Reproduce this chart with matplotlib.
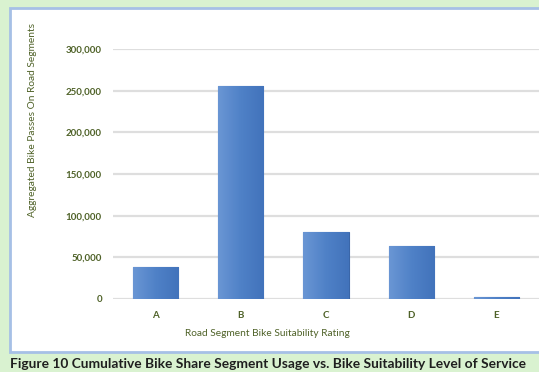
import numpy as np
import matplotlib.pyplot as plt
from matplotlib.patches import Rectangle

# bike share passes aggregated per suitability rating
ratings = ["A", "B", "C", "D", "E"]
passes = [38700, 256000, 80000, 63500, 3000]
yticks = [0, 50000, 100000, 150000, 200000, 250000, 300000]

label_col = "#4f6228"
plt.rcParams['font.family'] = ['Lato', 'DejaVu Sans']

fig = plt.figure(figsize=(5.39, 3.72), dpi=100)
fig.patch.set_facecolor("#d9f2d0")

# white chart panel with a blue border
panel = Rectangle((10 / 539, 1 - 352 / 372), 1.0, 344 / 372, transform=fig.transFigure,
                  facecolor="white", edgecolor="#a6c0e6", linewidth=2, zorder=-1)
fig.patches.append(panel)

ax = fig.add_axes([113 / 539, 1 - 299 / 372, 1 - 113 / 539, 250 / 372])
ax.set_facecolor("none")
ax.set_zorder(2)

x = np.arange(len(ratings))
bars = ax.bar(x, passes, width=0.53, color="#4f81c7", edgecolor="#3a66a8", linewidth=0.8, zorder=3)

# horizontal gradient on each bar
grad = np.linspace(0, 1, 64).reshape(1, -1)
cmap = plt.matplotlib.colors.LinearSegmentedColormap.from_list("bar", ["#6a96d4", "#4f81c7", "#4273bb"])
for b in bars:
    x0, y0 = b.get_x(), b.get_y()
    w, h = b.get_width(), b.get_height()
    im = ax.imshow(grad, extent=[x0, x0 + w, y0, y0 + h], aspect="auto", cmap=cmap, zorder=3.5)
    im.set_clip_path(b)

ax.set_xlim(-0.5, len(ratings) - 0.5)
ax.set_ylim(0, 300000)
ax.set_yticks(yticks)
ax.set_yticklabels([f"{v:,}" for v in yticks])
ax.set_xticks(x)
ax.set_xticklabels(ratings)
ax.grid(axis="y", color="#dedede", linewidth=1.6, zorder=0)
for s in ax.spines.values():
    s.set_visible(False)
ax.tick_params(length=0, colors=label_col, labelsize=7)
for lab in ax.get_yticklabels() + ax.get_xticklabels():
    lab.set_fontweight("bold")
ax.tick_params(axis="y", pad=8)
ax.tick_params(axis="x", pad=9)

fig.text(267 / 539, 1 - 333 / 372, "Road Segment Bike Suitability Rating", ha="center", va="center",
         fontsize=7.3, color=label_col)
fig.text(33 / 539, 1 - 120 / 372, "Aggregated Bike Passes On Road Segments", ha="center", va="center",
         rotation=90, fontsize=7.3, color=label_col)

fig.text(10 / 539, 1 - 364 / 372, "Figure 10 Cumulative Bike Share Segment Usage vs. Bike Suitability Level of Service",
         ha="left", va="center", fontsize=9.9, fontweight="bold", color="#1f1f1f")

fig.savefig("out.png", dpi=100)
